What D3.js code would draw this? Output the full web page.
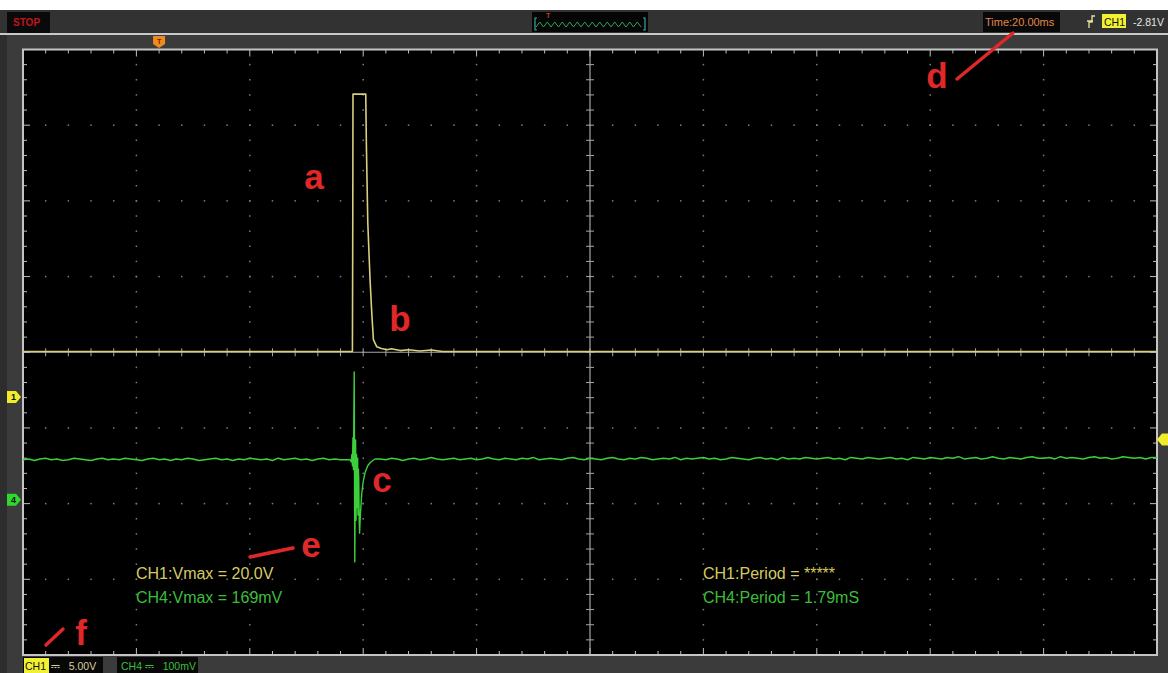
<!DOCTYPE html>
<html>
<head>
<meta charset="utf-8">
<script src="https://cdn.jsdelivr.net/npm/d3@7"></script>
<style>
  body { margin: 0; background: #ffffff; }
  svg { display: block; font-family: "Liberation Sans", Arial, sans-serif; }
  .pre { white-space: pre; }
</style>
</head>
<body>
<svg id="scope" width="1168" height="673"></svg>
<script>
// ---- Display settings -------------------------------------------------
const timePerDivMs = 20;          // Time:20.00ms
const triggerDiv = 1.2;           // trigger position, divisions from the left edge
const ch1VoltsPerDiv = 5;         // CH1 5.00V
const ch1ZeroDiv = 3.41;          // CH1 ground marker, divisions above bottom
const ch4MvPerDiv = 100;          // CH4 100mV
const ch4ZeroDiv = 2.05;          // CH4 ground marker, divisions above bottom
const triggerLevelV = -2.81;      // CH1 trigger level

// ---- CH1 (yellow) samples: time in ms, value in volts -----------------
const ch1Time  = [-24, 34.10, 34.16, 34.20, 36.45, 36.56, 36.81, 37.21, 37.51, 37.80, 38.40, 39.20, 40.20, 41.00, 42.50, 44.00, 46.00, 48.00, 50.00, 176];
const ch1Volts = [3.0, 3.0, 11.5, 20.0, 20.0, 16.7, 11.5, 7.74, 5.56, 3.78, 3.31, 3.20, 3.12, 3.18, 3.06, 3.12, 3.03, 3.10, 3.0, 3.0];

// ---- CH4 (green) samples: baseline every 1 ms from -24 ms, in mV --------
const ch4BaseStartMs = -24;
const ch4BaseStepMs = 1;
const ch4BaseMv = [
  53,54,52,54,55,53,54,52,53,55,54,53,52,54,55,53,54,53,55,54,
  53,52,54,55,53,54,52,54,53,55,54,52,53,54,55,53,54,52,54,53,
  55,54,53,54,52,55,53,54,55,53,54,52,54,55,53,54,53,53,54,53,
  54,54,55,54,53,55,54,52,54,55,53,54,56,54,53,54,55,53,54,55,
  53,54,56,54,53,55,54,53,55,54,56,53,54,55,54,53,55,56,54,53,
  55,54,53,55,56,54,53,55,54,56,55,53,54,55,54,56,53,55,54,55,
  56,54,55,53,54,56,55,54,53,55,56,54,55,53,56,54,55,54,56,55,
  54,55,56,54,55,53,56,55,54,56,55,54,55,56,54,55,53,56,55,54,
  56,55,54,56,55,57,54,55,56,54,55,57,55,54,56,55,54,56,57,55,
  55,56,54,57,55,56,55,54,56,57,55,56,54,55,57,56,55,56,54,56,
  56
];
// CH4 burst around the pulse edge
const ch4BurstTime = [33.70, 33.90, 34.00, 34.10, 34.20, 34.28, 34.36, 34.42, 34.48, 34.52, 34.60, 34.66, 34.74, 34.82, 34.88, 34.95, 35.02, 35.08, 35.16, 35.22, 35.30, 35.36, 35.50, 35.75, 36.00, 36.33, 36.80, 37.21, 37.70, 38.10];
const ch4BurstMv   = [53, 50, 60, 45, 82, 40, 120, 169, 10, -82, 30, 79, -27, 60, 39, -10, 55, -20, 40, 26, -30, -44, -20, 9, 24, 36, 45, 49, 52, 54];

// ---- Readouts ---------------------------------------------------------
const measureLeft  = ["CH1:Vmax = 20.0V", "CH4:Vmax = 169mV"];
const measureRight = ["CH1:Period = *****", "CH4:Period = 1.79mS"];
const notes = [
  { t: "a", x: 314, y: 189 },
  { t: "b", x: 400, y: 331 },
  { t: "c", x: 382, y: 492 },
  { t: "d", x: 937, y: 88 },
  { t: "e", x: 311, y: 557 },
  { t: "f", x: 81, y: 645 }
];
const noteLines = [
  [957, 79, 1013, 33],
  [250, 557, 293, 548],
  [46, 645, 63, 629]
];

// ---- Geometry ---------------------------------------------------------
const W = 1168, H = 673;
const plot = { left: 23, right: 1157, top: 49.5, bottom: 655 };
const divX = 10, divY = 8, minor = 5;

const gx = d3.scaleLinear().domain([0, divX]).range([plot.left, plot.right]);
const gy = d3.scaleLinear().domain([0, divY]).range([plot.bottom, plot.top]);

const x = d3.scaleLinear()
  .domain([-triggerDiv * timePerDivMs, (divX - triggerDiv) * timePerDivMs])
  .range([plot.left, plot.right]);
const y1 = d3.scaleLinear()
  .domain([-ch1ZeroDiv * ch1VoltsPerDiv, (divY - ch1ZeroDiv) * ch1VoltsPerDiv])
  .range([plot.bottom, plot.top]);
const y4 = d3.scaleLinear()
  .domain([-ch4ZeroDiv * ch4MvPerDiv, (divY - ch4ZeroDiv) * ch4MvPerDiv])
  .range([plot.bottom, plot.top]);

const svg = d3.select("#scope");

// ---- Frame --------------------------------------------------------------
svg.append("rect").attr("x", 0).attr("y", 10).attr("width", W).attr("height", H - 10).attr("fill", "#3b3b3b");
svg.append("rect").attr("x", 0).attr("y", 10).attr("width", 7).attr("height", H - 10).attr("fill", "#2d2d2d");
svg.append("rect").attr("x", 0).attr("y", 10).attr("width", W).attr("height", 23).attr("fill", "#323232");
svg.append("rect").attr("x", 0).attr("y", 33).attr("width", W).attr("height", 2).attr("fill", "#c9c9c9");

// STOP badge
svg.append("rect").attr("x", 7).attr("y", 12).attr("width", 43).attr("height", 21).attr("fill", "#0a0a0a");
svg.append("text").attr("x", 13).attr("y", 26).attr("fill", "#c4141a").attr("font-size", 10).attr("font-weight", "bold").text("STOP");

// Memory overview strip
const ov = svg.append("g");
ov.append("rect").attr("x", 532).attr("y", 12).attr("width", 116).attr("height", 20).attr("fill", "#050505");
ov.append("path").attr("d", "M537,18 h-2 v12 h2 M643,18 h2 v12 h-2").attr("fill", "none").attr("stroke", "#3aa6a0").attr("stroke-width", 1.2);
const zig = d3.range(0, 29).map(i => [536 + i * 3.75, i % 2 ? 22 : 27]);
ov.append("path").attr("d", d3.line()(zig)).attr("fill", "none").attr("stroke", "#2ea55a").attr("stroke-width", 1);
ov.append("text").attr("x", 546).attr("y", 18).attr("fill", "#c0401c").attr("font-size", 7).attr("font-weight", "bold").text("T");

// Timebase readout
svg.append("rect").attr("x", 983).attr("y", 12).attr("width", 77).attr("height", 20).attr("fill", "#080808");
svg.append("text").attr("x", 985).attr("y", 26).attr("fill", "#e0884a").attr("font-size", 11).text("Time:20.00ms");

// Trigger readout
svg.append("path").attr("d", "M1089,28 v-6 h3 v-6 h3 M1087,21 h6").attr("fill", "none").attr("stroke", "#e8e4a0").attr("stroke-width", 1.3);
svg.append("rect").attr("x", 1102).attr("y", 14).attr("width", 24).attr("height", 14).attr("fill", "#f2f032");
svg.append("text").attr("x", 1104).attr("y", 25.5).attr("fill", "#111").attr("font-size", 10.5).text("CH1");
svg.append("text").attr("x", 1133).attr("y", 25.5).attr("fill", "#e8e8e8").attr("font-size", 10.5).text(triggerLevelV.toFixed(2) + "V");

// Plot area
svg.append("rect").attr("x", plot.left).attr("y", plot.top).attr("width", plot.right - plot.left).attr("height", plot.bottom - plot.top).attr("fill", "#000");

// ---- Grid ---------------------------------------------------------------
const grid = svg.append("g");
const dotFill = "#7d7d7d";
d3.range(1, divX).filter(k => k !== divX / 2).forEach(k => {
  d3.range(1, divY * minor).forEach(j => {
    grid.append("rect").attr("x", gx(k) - 0.75).attr("y", gy(j / minor) - 0.75).attr("width", 1.5).attr("height", 1.5).attr("fill", dotFill);
  });
});
d3.range(1, divY).filter(k => k !== divY / 2).forEach(k => {
  d3.range(1, divX * minor).forEach(j => {
    grid.append("rect").attr("x", gx(j / minor) - 0.75).attr("y", gy(k) - 0.75).attr("width", 1.5).attr("height", 1.5).attr("fill", dotFill);
  });
});
// Center cross with ticks
const lineC = "#a6a6a6";
grid.append("line").attr("x1", gx(divX / 2)).attr("x2", gx(divX / 2)).attr("y1", plot.top).attr("y2", plot.bottom).attr("stroke", lineC).attr("stroke-width", 1.2);
grid.append("line").attr("x1", plot.left).attr("x2", plot.right).attr("y1", gy(divY / 2)).attr("y2", gy(divY / 2)).attr("stroke", lineC).attr("stroke-width", 1.2);
d3.range(1, divX * minor).forEach(j => {
  grid.append("line").attr("x1", gx(j / minor)).attr("x2", gx(j / minor)).attr("y1", gy(divY / 2) - 4).attr("y2", gy(divY / 2) + 4).attr("stroke", lineC);
  const len = j % minor === 0 ? 7 : 4;
  grid.append("line").attr("x1", gx(j / minor)).attr("x2", gx(j / minor)).attr("y1", plot.top).attr("y2", plot.top + len).attr("stroke", "#bdbdbd");
  grid.append("line").attr("x1", gx(j / minor)).attr("x2", gx(j / minor)).attr("y1", plot.bottom).attr("y2", plot.bottom - len).attr("stroke", "#bdbdbd");
});
d3.range(1, divY * minor).forEach(j => {
  grid.append("line").attr("y1", gy(j / minor)).attr("y2", gy(j / minor)).attr("x1", gx(divX / 2) - 4).attr("x2", gx(divX / 2) + 4).attr("stroke", lineC);
  const len = j % minor === 0 ? 7 : 4;
  grid.append("line").attr("y1", gy(j / minor)).attr("y2", gy(j / minor)).attr("x1", plot.left).attr("x2", plot.left + len).attr("stroke", "#bdbdbd");
  grid.append("line").attr("y1", gy(j / minor)).attr("y2", gy(j / minor)).attr("x1", plot.right).attr("x2", plot.right - len).attr("stroke", "#bdbdbd");
});
svg.append("rect").attr("x", plot.left).attr("y", plot.top).attr("width", plot.right - plot.left).attr("height", plot.bottom - plot.top)
  .attr("fill", "none").attr("stroke", "#c4c4c4").attr("stroke-width", 2);

// ---- Traces -------------------------------------------------------------
svg.append("clipPath").attr("id", "clipPlot").append("rect")
  .attr("x", plot.left).attr("y", plot.top).attr("width", plot.right - plot.left).attr("height", plot.bottom - plot.top);

const ch4Points = ch4BaseMv
  .map((v, i) => [ch4BaseStartMs + i * ch4BaseStepMs, v])
  .filter(d => d[0] < ch4BurstTime[0] || d[0] > ch4BurstTime[ch4BurstTime.length - 1])
  .concat(ch4BurstTime.map((t, i) => [t, ch4BurstMv[i]]))
  .sort((a, b) => a[0] - b[0]);
const ch1Points = ch1Time.map((t, i) => [t, ch1Volts[i]]);

const traces = svg.append("g").attr("clip-path", "url(#clipPlot)");
traces.append("path")
  .attr("d", d3.line().x(d => x(d[0])).y(d => y4(d[1]))(ch4Points))
  .attr("fill", "none").attr("stroke", "#3ccf3c").attr("stroke-width", 1.4).attr("stroke-linejoin", "round");
traces.append("path")
  .attr("d", d3.line().x(d => x(d[0])).y(d => y1(d[1]))(ch1Points))
  .attr("fill", "none").attr("stroke", "#d8d07e").attr("stroke-width", 1.6).attr("stroke-linejoin", "round");

// ---- Channel markers --------------------------------------------------
function leftMarker(yPos, fill, label) {
  svg.append("path").attr("d", `M7,${yPos - 6} h9 l5,6 l-5,6 h-9 z`).attr("fill", fill);
  svg.append("text").attr("x", 11).attr("y", yPos + 3.5).attr("fill", "#111").attr("font-size", 9).attr("font-weight", "bold").text(label);
}
leftMarker(y1(0), "#f0ec2c", "1");
leftMarker(y4(0), "#2ed82e", "4");
const ty = y1(triggerLevelV);
svg.append("path").attr("d", `M1168,${ty - 6} h-6 l-5,6 l5,6 h6 z`).attr("fill", "#f0ec2c");
// trigger position marker
const tx = x(0);
svg.append("path").attr("d", `M${tx - 6},36 h12 v8 l-6,4 l-6,-4 z`).attr("fill", "#f08a1e");
svg.append("text").attr("x", tx).attr("y", 44).attr("text-anchor", "middle").attr("fill", "#5a2a00").attr("font-size", 7).attr("font-weight", "bold").text("T");

// ---- Measurements -----------------------------------------------------
const mColors = ["#d6ca60", "#3cbd3c"];
measureLeft.forEach((s, i) => {
  svg.append("text").attr("x", 136).attr("y", 579 + i * 24).attr("fill", mColors[i]).attr("font-size", 16).text(s);
});
measureRight.forEach((s, i) => {
  svg.append("text").attr("x", 703).attr("y", 579 + i * 24).attr("fill", mColors[i]).attr("font-size", 16).text(s);
});

// ---- Bottom status bar ------------------------------------------------
svg.append("rect").attr("x", 23).attr("y", 657).attr("width", 80).attr("height", 16).attr("fill", "#080808");
svg.append("rect").attr("x", 24).attr("y", 658).attr("width", 25).attr("height", 15).attr("fill", "#f2f032");
svg.append("text").attr("x", 25).attr("y", 669.5).attr("fill", "#111").attr("font-size", 10.5).text("CH1");
svg.append("text").attr("class", "pre").attr("x", 51).attr("y", 669.5).attr("fill", "#d8d0a0").attr("font-size", 10.5).text("\u2393   5.00V");
svg.append("rect").attr("x", 117).attr("y", 657).attr("width", 81).attr("height", 16).attr("fill", "#080808");
svg.append("text").attr("class", "pre").attr("x", 121).attr("y", 669.5).attr("fill", "#3cbd3c").attr("font-size", 10.5).text("CH4 \u2393   100mV");

// ---- Annotations ------------------------------------------------------
noteLines.forEach(l => {
  svg.append("line").attr("x1", l[0]).attr("y1", l[1]).attr("x2", l[2]).attr("y2", l[3])
    .attr("stroke", "#e02828").attr("stroke-width", 3.5).attr("stroke-linecap", "round");
});
notes.forEach(n => {
  svg.append("text").attr("x", n.x).attr("y", n.y).attr("text-anchor", "middle")
    .attr("fill", "#e02828").attr("font-size", 35).attr("font-weight", "bold").text(n.t);
});
</script>
</body>
</html>
